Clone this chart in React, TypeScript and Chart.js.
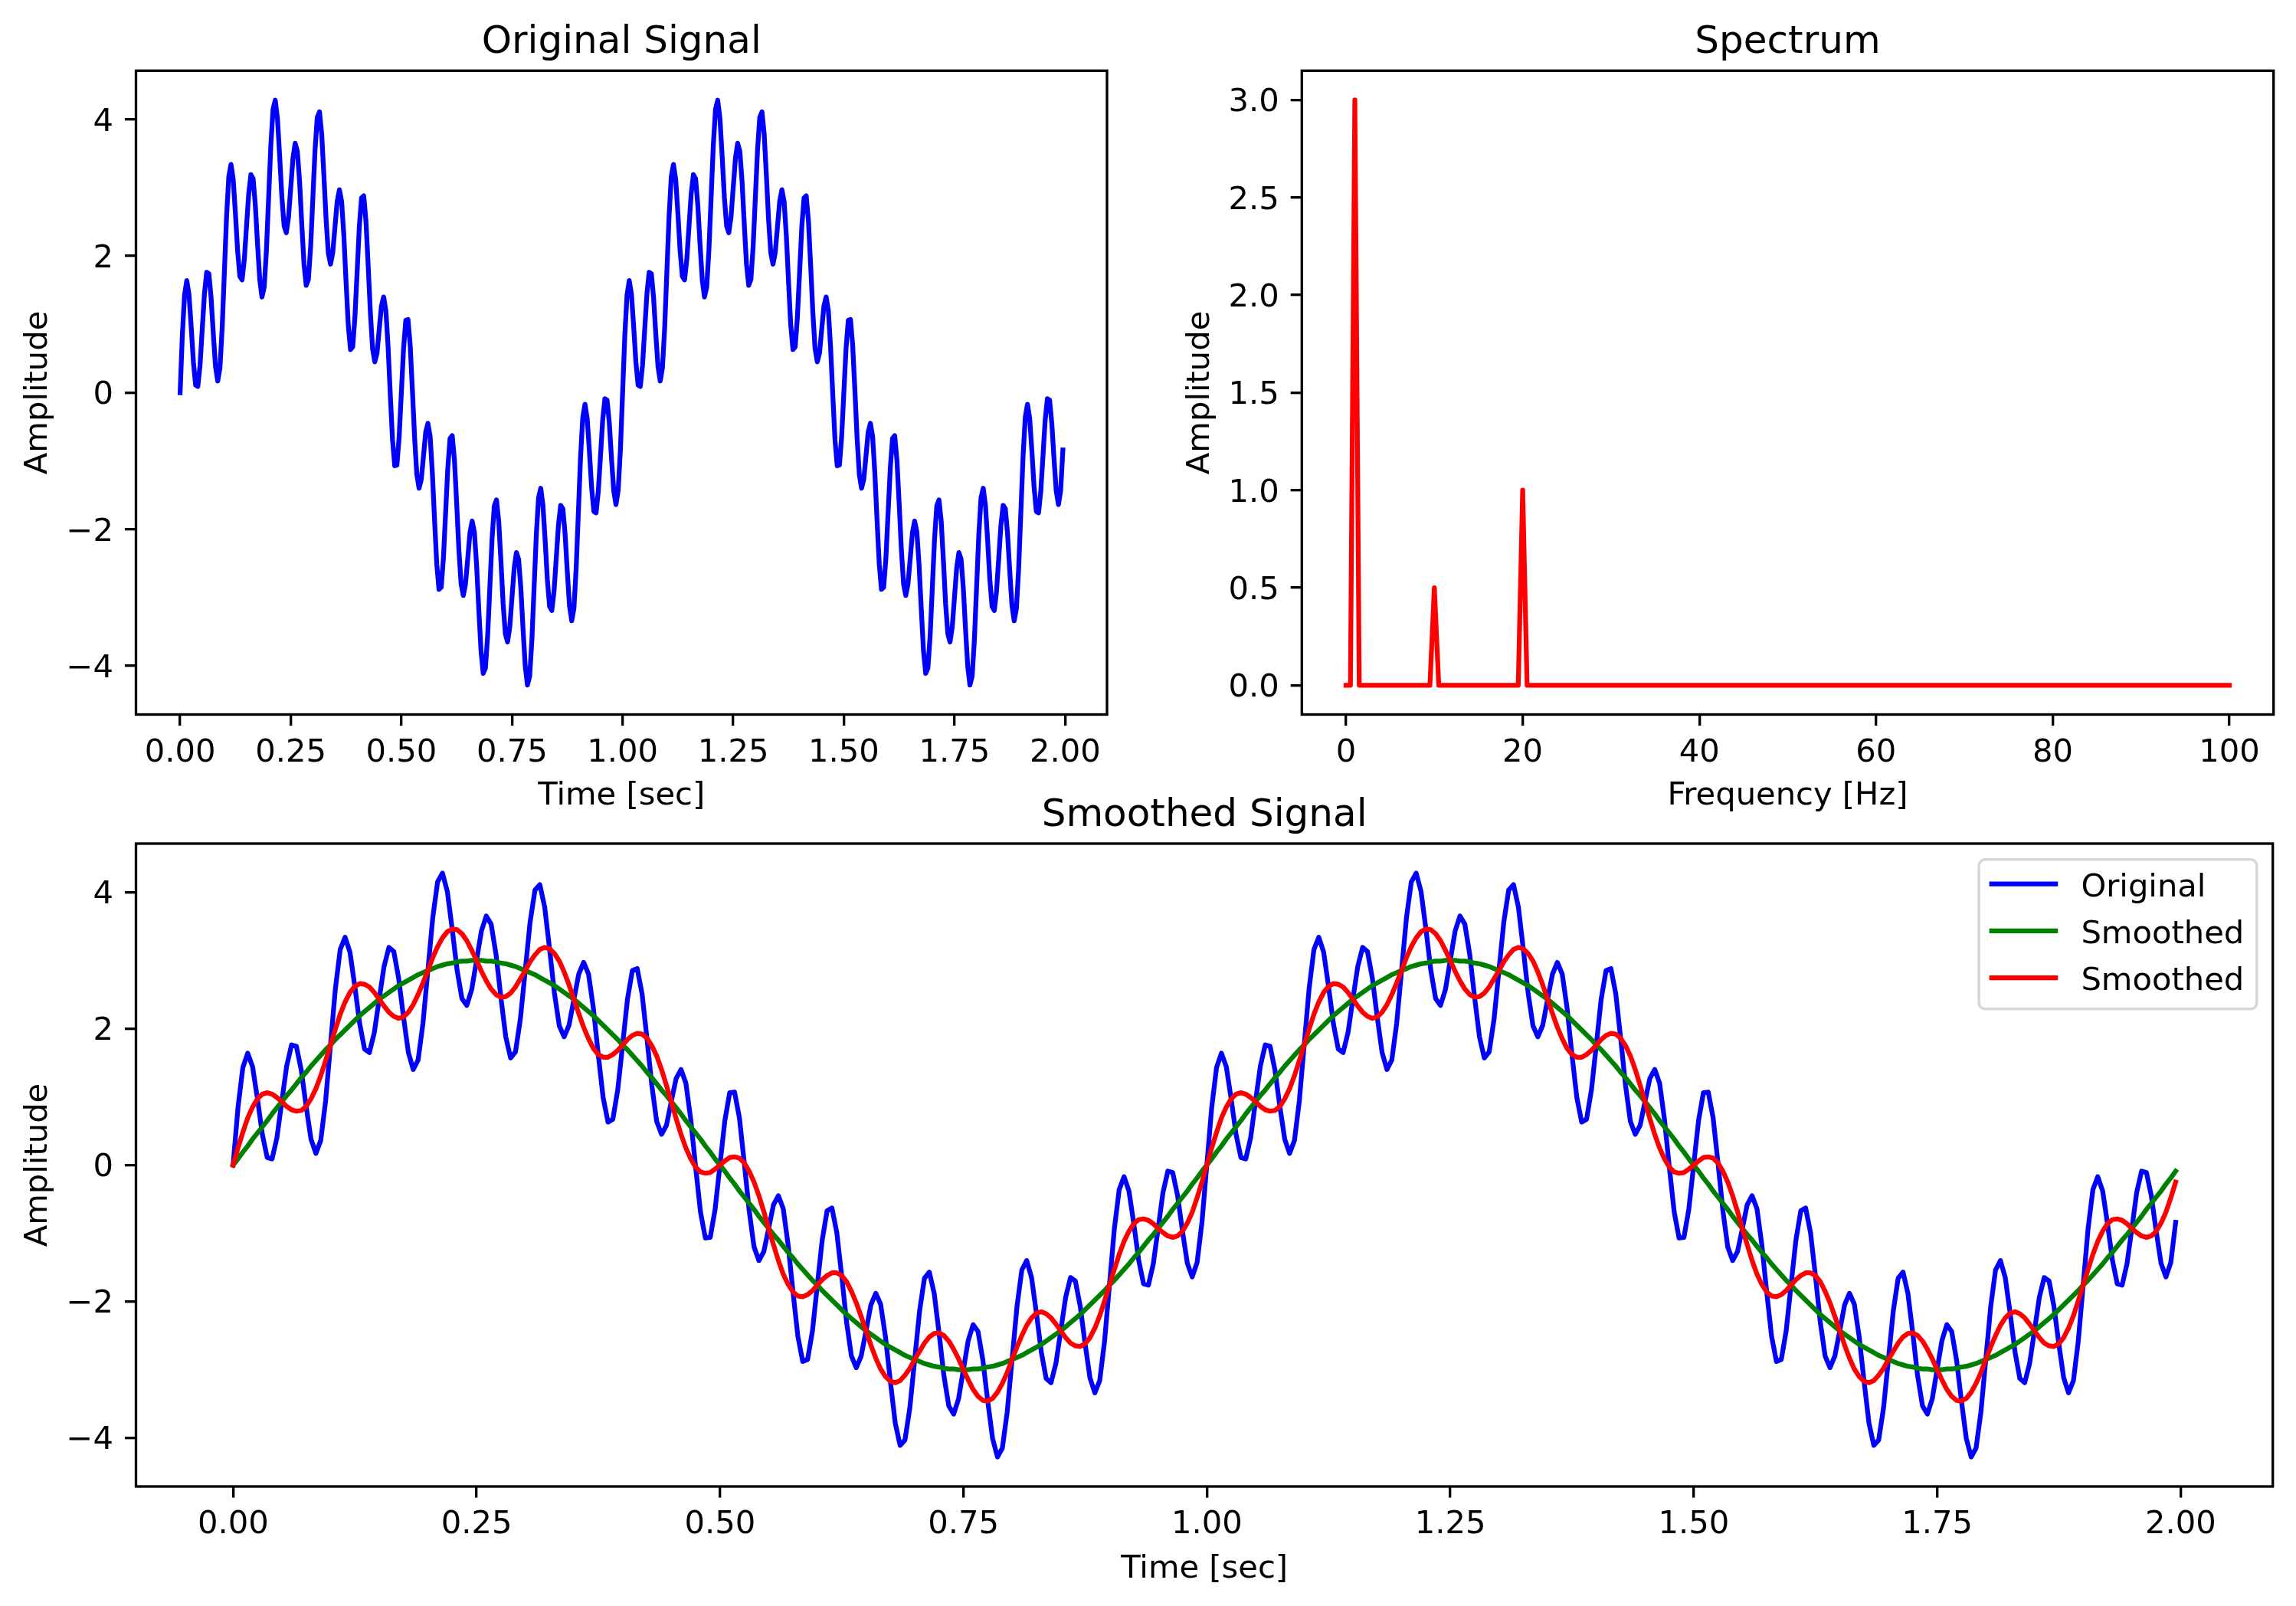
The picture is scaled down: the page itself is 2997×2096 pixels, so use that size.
import { useEffect, useRef } from 'react';
import Chart from 'chart.js/auto';

// sampling of the time series (400 samples over 2 s)
const SAMPLE_RATE = 200;

// blue: original signal
const originalSignal = [
  0, 0.84, 1.43, 1.64, 1.44, 0.97, 0.45, 0.11, 0.09, 0.40,
  0.93, 1.45, 1.76, 1.74, 1.39, 0.86, 0.38, 0.17, 0.36, 0.94,
  1.76, 2.58, 3.16, 3.34, 3.12, 2.62, 2.07, 1.70, 1.65, 1.94,
  2.43, 2.91, 3.19, 3.13, 2.74, 2.17, 1.65, 1.40, 1.54, 2.08,
  2.85, 3.62, 4.15, 4.28, 4.01, 3.46, 2.86, 2.44, 2.34, 2.57,
  3.00, 3.43, 3.65, 3.53, 3.09, 2.46, 1.88, 1.57, 1.66, 2.14,
  2.85, 3.56, 4.03, 4.11, 3.78, 3.17, 2.52, 2.04, 1.88, 2.05,
  2.43, 2.80, 2.97, 2.80, 2.30, 1.62, 0.99, 0.63, 0.67, 1.10,
  1.76, 2.43, 2.85, 2.88, 2.51, 1.86, 1.17, 0.64, 0.45, 0.58,
  0.93, 1.27, 1.40, 1.20, 0.67, -0.03, -0.69, -1.07, -1.06, -0.65,
  0, 0.65, 1.06, 1.07, 0.69, 0.03, -0.67, -1.20, -1.40, -1.27,
  -0.93, -0.58, -0.45, -0.64, -1.17, -1.86, -2.51, -2.88, -2.85, -2.43,
  -1.76, -1.10, -0.67, -0.63, -0.99, -1.62, -2.30, -2.80, -2.97, -2.80,
  -2.43, -2.05, -1.88, -2.04, -2.52, -3.17, -3.78, -4.11, -4.03, -3.56,
  -2.85, -2.14, -1.66, -1.57, -1.88, -2.46, -3.09, -3.53, -3.65, -3.43,
  -3.00, -2.57, -2.34, -2.44, -2.86, -3.46, -4.01, -4.28, -4.15, -3.62,
  -2.85, -2.08, -1.54, -1.40, -1.65, -2.17, -2.74, -3.13, -3.19, -2.91,
  -2.43, -1.94, -1.65, -1.70, -2.07, -2.62, -3.12, -3.34, -3.16, -2.58,
  -1.76, -0.94, -0.36, -0.17, -0.38, -0.86, -1.39, -1.74, -1.76, -1.45,
  -0.93, -0.40, -0.09, -0.11, -0.45, -0.97, -1.44, -1.64, -1.43, -0.84,
  0, 0.84, 1.43, 1.64, 1.44, 0.97, 0.45, 0.11, 0.09, 0.40,
  0.93, 1.45, 1.76, 1.74, 1.39, 0.86, 0.38, 0.17, 0.36, 0.94,
  1.76, 2.58, 3.16, 3.34, 3.12, 2.62, 2.07, 1.70, 1.65, 1.94,
  2.43, 2.91, 3.19, 3.13, 2.74, 2.17, 1.65, 1.40, 1.54, 2.08,
  2.85, 3.62, 4.15, 4.28, 4.01, 3.46, 2.86, 2.44, 2.34, 2.57,
  3.00, 3.43, 3.65, 3.53, 3.09, 2.46, 1.88, 1.57, 1.66, 2.14,
  2.85, 3.56, 4.03, 4.11, 3.78, 3.17, 2.52, 2.04, 1.88, 2.05,
  2.43, 2.80, 2.97, 2.80, 2.30, 1.62, 0.99, 0.63, 0.67, 1.10,
  1.76, 2.43, 2.85, 2.88, 2.51, 1.86, 1.17, 0.64, 0.45, 0.58,
  0.93, 1.27, 1.40, 1.20, 0.67, -0.03, -0.69, -1.07, -1.06, -0.65,
  0, 0.65, 1.06, 1.07, 0.69, 0.03, -0.67, -1.20, -1.40, -1.27,
  -0.93, -0.58, -0.45, -0.64, -1.17, -1.86, -2.51, -2.88, -2.85, -2.43,
  -1.76, -1.10, -0.67, -0.63, -0.99, -1.62, -2.30, -2.80, -2.97, -2.80,
  -2.43, -2.05, -1.88, -2.04, -2.52, -3.17, -3.78, -4.11, -4.03, -3.56,
  -2.85, -2.14, -1.66, -1.57, -1.88, -2.46, -3.09, -3.53, -3.65, -3.43,
  -3.00, -2.57, -2.34, -2.44, -2.86, -3.46, -4.01, -4.28, -4.15, -3.62,
  -2.85, -2.08, -1.54, -1.40, -1.65, -2.17, -2.74, -3.13, -3.19, -2.91,
  -2.43, -1.94, -1.65, -1.70, -2.07, -2.62, -3.12, -3.34, -3.16, -2.58,
  -1.76, -0.94, -0.36, -0.17, -0.38, -0.86, -1.39, -1.74, -1.76, -1.45,
  -0.93, -0.40, -0.09, -0.11, -0.45, -0.97, -1.44, -1.64, -1.43, -0.84,
];

// green: smoothed (slow sine only)
const smoothedGreen = [
  0, 0.09, 0.19, 0.28, 0.38, 0.47, 0.56, 0.65, 0.75, 0.84,
  0.93, 1.02, 1.10, 1.19, 1.28, 1.36, 1.45, 1.53, 1.61, 1.69,
  1.76, 1.84, 1.91, 1.98, 2.05, 2.12, 2.19, 2.25, 2.31, 2.37,
  2.43, 2.48, 2.53, 2.58, 2.63, 2.67, 2.71, 2.75, 2.79, 2.82,
  2.85, 2.88, 2.91, 2.93, 2.95, 2.96, 2.98, 2.99, 2.99, 3.00,
  3.00, 3.00, 2.99, 2.99, 2.98, 2.96, 2.95, 2.93, 2.91, 2.88,
  2.85, 2.82, 2.79, 2.75, 2.71, 2.67, 2.63, 2.58, 2.53, 2.48,
  2.43, 2.37, 2.31, 2.25, 2.19, 2.12, 2.05, 1.98, 1.91, 1.84,
  1.76, 1.69, 1.61, 1.53, 1.45, 1.36, 1.28, 1.19, 1.10, 1.02,
  0.93, 0.84, 0.75, 0.65, 0.56, 0.47, 0.38, 0.28, 0.19, 0.09,
  0, -0.09, -0.19, -0.28, -0.38, -0.47, -0.56, -0.65, -0.75, -0.84,
  -0.93, -1.02, -1.10, -1.19, -1.28, -1.36, -1.45, -1.53, -1.61, -1.69,
  -1.76, -1.84, -1.91, -1.98, -2.05, -2.12, -2.19, -2.25, -2.31, -2.37,
  -2.43, -2.48, -2.53, -2.58, -2.63, -2.67, -2.71, -2.75, -2.79, -2.82,
  -2.85, -2.88, -2.91, -2.93, -2.95, -2.96, -2.98, -2.99, -2.99, -3.00,
  -3.00, -3.00, -2.99, -2.99, -2.98, -2.96, -2.95, -2.93, -2.91, -2.88,
  -2.85, -2.82, -2.79, -2.75, -2.71, -2.67, -2.63, -2.58, -2.53, -2.48,
  -2.43, -2.37, -2.31, -2.25, -2.19, -2.12, -2.05, -1.98, -1.91, -1.84,
  -1.76, -1.69, -1.61, -1.53, -1.45, -1.36, -1.28, -1.19, -1.10, -1.02,
  -0.93, -0.84, -0.75, -0.65, -0.56, -0.47, -0.38, -0.28, -0.19, -0.09,
  0, 0.09, 0.19, 0.28, 0.38, 0.47, 0.56, 0.65, 0.75, 0.84,
  0.93, 1.02, 1.10, 1.19, 1.28, 1.36, 1.45, 1.53, 1.61, 1.69,
  1.76, 1.84, 1.91, 1.98, 2.05, 2.12, 2.19, 2.25, 2.31, 2.37,
  2.43, 2.48, 2.53, 2.58, 2.63, 2.67, 2.71, 2.75, 2.79, 2.82,
  2.85, 2.88, 2.91, 2.93, 2.95, 2.96, 2.98, 2.99, 2.99, 3.00,
  3.00, 3.00, 2.99, 2.99, 2.98, 2.96, 2.95, 2.93, 2.91, 2.88,
  2.85, 2.82, 2.79, 2.75, 2.71, 2.67, 2.63, 2.58, 2.53, 2.48,
  2.43, 2.37, 2.31, 2.25, 2.19, 2.12, 2.05, 1.98, 1.91, 1.84,
  1.76, 1.69, 1.61, 1.53, 1.45, 1.36, 1.28, 1.19, 1.10, 1.02,
  0.93, 0.84, 0.75, 0.65, 0.56, 0.47, 0.38, 0.28, 0.19, 0.09,
  0, -0.09, -0.19, -0.28, -0.38, -0.47, -0.56, -0.65, -0.75, -0.84,
  -0.93, -1.02, -1.10, -1.19, -1.28, -1.36, -1.45, -1.53, -1.61, -1.69,
  -1.76, -1.84, -1.91, -1.98, -2.05, -2.12, -2.19, -2.25, -2.31, -2.37,
  -2.43, -2.48, -2.53, -2.58, -2.63, -2.67, -2.71, -2.75, -2.79, -2.82,
  -2.85, -2.88, -2.91, -2.93, -2.95, -2.96, -2.98, -2.99, -2.99, -3.00,
  -3.00, -3.00, -2.99, -2.99, -2.98, -2.96, -2.95, -2.93, -2.91, -2.88,
  -2.85, -2.82, -2.79, -2.75, -2.71, -2.67, -2.63, -2.58, -2.53, -2.48,
  -2.43, -2.37, -2.31, -2.25, -2.19, -2.12, -2.05, -1.98, -1.91, -1.84,
  -1.76, -1.69, -1.61, -1.53, -1.45, -1.36, -1.28, -1.19, -1.10, -1.02,
  -0.93, -0.84, -0.75, -0.65, -0.56, -0.47, -0.38, -0.28, -0.19, -0.09,
];

// red: smoothed (slow sine + 10 Hz ripple)
const smoothedRed = [
  0, 0.25, 0.48, 0.69, 0.85, 0.97, 1.04, 1.06, 1.04, 0.99,
  0.93, 0.86, 0.81, 0.79, 0.80, 0.86, 0.97, 1.12, 1.31, 1.53,
  1.76, 1.99, 2.21, 2.39, 2.53, 2.62, 2.66, 2.65, 2.61, 2.53,
  2.43, 2.33, 2.24, 2.18, 2.15, 2.17, 2.24, 2.35, 2.50, 2.67,
  2.85, 3.04, 3.20, 3.33, 3.42, 3.46, 3.45, 3.39, 3.29, 3.15,
  3.00, 2.84, 2.70, 2.58, 2.50, 2.46, 2.47, 2.52, 2.61, 2.73,
  2.85, 2.98, 3.08, 3.16, 3.19, 3.17, 3.10, 2.99, 2.83, 2.64,
  2.43, 2.22, 2.02, 1.85, 1.71, 1.62, 1.58, 1.58, 1.62, 1.68,
  1.76, 1.84, 1.90, 1.93, 1.92, 1.86, 1.75, 1.60, 1.40, 1.17,
  0.93, 0.68, 0.45, 0.25, 0.09, -0.03, -0.10, -0.12, -0.11, -0.06,
  0, 0.06, 0.11, 0.12, 0.10, 0.03, -0.09, -0.25, -0.45, -0.68,
  -0.93, -1.17, -1.40, -1.60, -1.75, -1.86, -1.92, -1.93, -1.90, -1.84,
  -1.76, -1.68, -1.62, -1.58, -1.58, -1.62, -1.71, -1.85, -2.02, -2.22,
  -2.43, -2.64, -2.83, -2.99, -3.10, -3.17, -3.19, -3.16, -3.08, -2.98,
  -2.85, -2.73, -2.61, -2.52, -2.47, -2.46, -2.50, -2.58, -2.70, -2.84,
  -3.00, -3.15, -3.29, -3.39, -3.45, -3.46, -3.42, -3.33, -3.20, -3.04,
  -2.85, -2.67, -2.50, -2.35, -2.24, -2.17, -2.15, -2.18, -2.24, -2.33,
  -2.43, -2.53, -2.61, -2.65, -2.66, -2.62, -2.53, -2.39, -2.21, -1.99,
  -1.76, -1.53, -1.31, -1.12, -0.97, -0.86, -0.80, -0.79, -0.81, -0.86,
  -0.93, -0.99, -1.04, -1.06, -1.04, -0.97, -0.85, -0.69, -0.48, -0.25,
  0, 0.25, 0.48, 0.69, 0.85, 0.97, 1.04, 1.06, 1.04, 0.99,
  0.93, 0.86, 0.81, 0.79, 0.80, 0.86, 0.97, 1.12, 1.31, 1.53,
  1.76, 1.99, 2.21, 2.39, 2.53, 2.62, 2.66, 2.65, 2.61, 2.53,
  2.43, 2.33, 2.24, 2.18, 2.15, 2.17, 2.24, 2.35, 2.50, 2.67,
  2.85, 3.04, 3.20, 3.33, 3.42, 3.46, 3.45, 3.39, 3.29, 3.15,
  3.00, 2.84, 2.70, 2.58, 2.50, 2.46, 2.47, 2.52, 2.61, 2.73,
  2.85, 2.98, 3.08, 3.16, 3.19, 3.17, 3.10, 2.99, 2.83, 2.64,
  2.43, 2.22, 2.02, 1.85, 1.71, 1.62, 1.58, 1.58, 1.62, 1.68,
  1.76, 1.84, 1.90, 1.93, 1.92, 1.86, 1.75, 1.60, 1.40, 1.17,
  0.93, 0.68, 0.45, 0.25, 0.09, -0.03, -0.10, -0.12, -0.11, -0.06,
  0, 0.06, 0.11, 0.12, 0.10, 0.03, -0.09, -0.25, -0.45, -0.68,
  -0.93, -1.17, -1.40, -1.60, -1.75, -1.86, -1.92, -1.93, -1.90, -1.84,
  -1.76, -1.68, -1.62, -1.58, -1.58, -1.62, -1.71, -1.85, -2.02, -2.22,
  -2.43, -2.64, -2.83, -2.99, -3.10, -3.17, -3.19, -3.16, -3.08, -2.98,
  -2.85, -2.73, -2.61, -2.52, -2.47, -2.46, -2.50, -2.58, -2.70, -2.84,
  -3.00, -3.15, -3.29, -3.39, -3.45, -3.46, -3.42, -3.33, -3.20, -3.04,
  -2.85, -2.67, -2.50, -2.35, -2.24, -2.17, -2.15, -2.18, -2.24, -2.33,
  -2.43, -2.53, -2.61, -2.65, -2.66, -2.62, -2.53, -2.39, -2.21, -1.99,
  -1.76, -1.53, -1.31, -1.12, -0.97, -0.86, -0.80, -0.79, -0.81, -0.86,
  -0.93, -0.99, -1.04, -1.06, -1.04, -0.97, -0.85, -0.69, -0.48, -0.25,
];

// spectrum: vertices of the drawn line (everything else is zero)
const spectrumFreqs = [0, 0.5, 1, 1.5, 9.5, 10, 10.5, 19.5, 20, 20.5, 100];
const spectrumAmps = [0, 0, 3, 0, 0, 0.5, 0, 0, 1, 0, 0];

// tick values
const timeTicks = [0, 0.25, 0.5, 0.75, 1, 1.25, 1.5, 1.75, 2];
const amplitudeTicks = [-4, -2, 0, 2, 4];
const freqTicks = [0, 20, 40, 60, 80, 100];
const spectrumTicks = [0, 0.5, 1, 1.5, 2, 2.5, 3];

const FONT = '"DejaVu Sans", "Liberation Sans", sans-serif';
const PT = 300 / 72;
const LABEL_SIZE = 10 * PT;
const TITLE_SIZE = 12 * PT;
const LINE_W = 1.5 * PT;
const SPINE_W = 0.8 * PT;
const TICK_LEN = 3.5 * PT;

const fmt = (v: number, digits: number) => Number(v).toFixed(digits).replace('-', '\u2212');

const toPoints = (values: number[]) => values.map((y, i) => ({ x: i / SAMPLE_RATE, y }));

// matplotlib style box round the plot area
const framePlugin = {
  id: 'frame',
  afterDatasetsDraw(chart: any) {
    const { ctx, chartArea: a } = chart;
    ctx.save();
    ctx.strokeStyle = '#000';
    ctx.lineWidth = SPINE_W;
    ctx.strokeRect(a.left, a.top, a.right - a.left, a.bottom - a.top);
    ctx.restore();
  },
};

// legend drawn inside the plot area, upper right
const insideLegend = {
  id: 'insideLegend',
  afterDraw(chart: any) {
    const { ctx, chartArea: a } = chart;
    const sets = chart.data.datasets;
    ctx.save();
    ctx.font = `${LABEL_SIZE}px ${FONT}`;
    const textW = Math.max(...sets.map((d: any) => ctx.measureText(d.label).width));
    const pad = 0.4 * LABEL_SIZE;
    const handle = 2 * LABEL_SIZE;
    const gap = 0.8 * LABEL_SIZE;
    const w = pad * 2 + handle + gap + textW;
    const h = 195;
    const x = a.right - 0.5 * LABEL_SIZE - w;
    const y = a.top + 0.5 * LABEL_SIZE;

    ctx.beginPath();
    ctx.roundRect(x, y, w, h, 8);
    ctx.fillStyle = 'rgba(255,255,255,0.8)';
    ctx.fill();
    ctx.strokeStyle = '#d6d6d6';
    ctx.lineWidth = 3.5;
    ctx.stroke();

    sets.forEach((d: any, i: number) => {
      const cy = y + 31.8 + i * 61.2;
      ctx.beginPath();
      ctx.moveTo(x + pad, cy);
      ctx.lineTo(x + pad + handle, cy);
      ctx.strokeStyle = d.borderColor;
      ctx.lineWidth = LINE_W;
      ctx.lineCap = 'square';
      ctx.stroke();
      ctx.fillStyle = '#000';
      ctx.textAlign = 'left';
      ctx.textBaseline = 'middle';
      ctx.fillText(d.label, x + pad + handle + gap, cy + 5.5);
    });
    ctx.restore();
  },
};

interface AxisSpec {
  min: number;
  max: number;
  ticks: number[];
  digits: number;
  title: string;
}

interface PanelSpec {
  title: string;
  x: AxisSpec;
  y: AxisSpec;
  yAxisWidth: number;
  xAxisHeight: number;
  rightPad: number;
  titlePad: { top: number; bottom: number };
  xTitlePad: number;
  yTitlePad: number;
}

const lineStyle = {
  borderWidth: LINE_W,
  pointRadius: 0,
  fill: false,
  tension: 0,
  borderJoinStyle: 'round',
  borderCapStyle: 'square',
};

function buildOptions(p: PanelSpec): any {
  const tickFont = { family: FONT, size: LABEL_SIZE };
  const grid = {
    display: true,
    drawOnChartArea: false,
    drawTicks: true,
    tickLength: TICK_LEN,
    color: '#000',
    lineWidth: SPINE_W,
  };
  return {
    animation: false,
    responsive: false,
    maintainAspectRatio: false,
    events: [],
    layout: { padding: { left: 0, top: 0, bottom: 0, right: p.rightPad } },
    plugins: {
      legend: { display: false },
      tooltip: { enabled: false },
      title: {
        display: true,
        fullSize: false,
        text: p.title,
        color: '#000',
        font: { family: FONT, size: TITLE_SIZE, weight: 'normal' },
        padding: p.titlePad,
      },
    },
    scales: {
      x: {
        type: 'linear',
        min: p.x.min,
        max: p.x.max,
        afterBuildTicks: (s: any) => {
          s.ticks = p.x.ticks.map((v) => ({ value: v }));
        },
        afterFit: (s: any) => {
          s.height = p.xAxisHeight;
          s.paddingLeft = 0;
          s.paddingRight = 0;
        },
        ticks: {
          color: '#000',
          font: tickFont,
          padding: 11,
          maxRotation: 0,
          autoSkip: false,
          callback: (v: number) => fmt(v, p.x.digits),
        },
        grid,
        border: { display: false },
        title: {
          display: true,
          text: p.x.title,
          color: '#000',
          font: tickFont,
          padding: { top: 0, bottom: p.xTitlePad },
        },
      },
      y: {
        type: 'linear',
        min: p.y.min,
        max: p.y.max,
        afterBuildTicks: (s: any) => {
          s.ticks = p.y.ticks.map((v) => ({ value: v }));
        },
        afterFit: (s: any) => {
          s.width = p.yAxisWidth;
          s.paddingTop = 0;
          s.paddingBottom = 0;
        },
        ticks: {
          color: '#000',
          font: tickFont,
          padding: 15,
          labelOffset: 4,
          autoSkip: false,
          callback: (v: number) => fmt(v, p.y.digits),
        },
        grid,
        border: { display: false },
        title: {
          display: true,
          text: p.y.title,
          color: '#000',
          font: tickFont,
          padding: { top: p.yTitlePad, bottom: 0 },
        },
      },
    },
  };
}

const timeAxis: AxisSpec = { min: -0.09975, max: 2.09475, ticks: timeTicks, digits: 2, title: 'Time [sec]' };
const signalAxis: AxisSpec = { min: -4.7117, max: 4.7117, ticks: amplitudeTicks, digits: 0, title: 'Amplitude' };

function ChartPanel({ left, top, width, height, makeConfig }: any) {
  const canvasRef = useRef<HTMLCanvasElement | null>(null);

  useEffect(() => {
    if (!canvasRef.current) return;
    const chart = new Chart(canvasRef.current, makeConfig());
    return () => {
      chart.destroy();
    };
  }, []);

  return (
    <canvas
      ref={canvasRef}
      width={width}
      height={height}
      style={{ position: 'absolute', left, top, width, height }}
    />
  );
}

const originalConfig = () => ({
  type: 'line',
  data: {
    datasets: [{ label: 'Original', data: toPoints(originalSignal), borderColor: '#0000ff', ...lineStyle }],
  },
  options: buildOptions({
    title: 'Original Signal',
    x: timeAxis,
    y: signalAxis,
    yAxisWidth: 177.5,
    xAxisHeight: 157.5,
    rightPad: 55,
    titlePad: { top: 26, bottom: 6.3 },
    xTitlePad: 25.5,
    yTitlePad: 25,
  }),
  plugins: [framePlugin],
});

const spectrumConfig = () => ({
  type: 'line',
  data: {
    datasets: [
      {
        label: 'Spectrum',
        data: spectrumFreqs.map((f, i) => ({ x: f, y: spectrumAmps[i] })),
        borderColor: '#ff0000',
        ...lineStyle,
      },
    ],
  },
  options: buildOptions({
    title: 'Spectrum',
    x: { min: -5, max: 105, ticks: freqTicks, digits: 0, title: 'Frequency [Hz]' },
    y: { min: -0.15, max: 3.15, ticks: spectrumTicks, digits: 1, title: 'Amplitude' },
    yAxisWidth: 199.3,
    xAxisHeight: 157.5,
    rightPad: 29.3,
    titlePad: { top: 26, bottom: 6.3 },
    xTitlePad: 25.5,
    yTitlePad: 42,
  }),
  plugins: [framePlugin],
});

const smoothedConfig = () => ({
  type: 'line',
  data: {
    datasets: [
      { label: 'Original', data: toPoints(originalSignal), borderColor: '#0000ff', order: 3, ...lineStyle },
      { label: 'Smoothed', data: toPoints(smoothedGreen), borderColor: '#008000', order: 2, ...lineStyle },
      { label: 'Smoothed', data: toPoints(smoothedRed), borderColor: '#ff0000', order: 1, ...lineStyle },
    ],
  },
  options: buildOptions({
    title: 'Smoothed Signal',
    x: timeAxis,
    y: signalAxis,
    yAxisWidth: 177.5,
    xAxisHeight: 156,
    rightPad: 30.3,
    titlePad: { top: 34.7, bottom: 6.3 },
    xTitlePad: 22.4,
    yTitlePad: 25,
  }),
  plugins: [framePlugin, insideLegend],
});

export default function App() {
  return (
    <div
      style={{
        position: 'absolute',
        left: 0,
        top: 0,
        width: 2997,
        height: 2096,
        background: '#fff',
        overflow: 'hidden',
      }}
    >
      <ChartPanel left={0} top={0} width={1500} height={1090} makeConfig={originalConfig} />
      <ChartPanel left={1500} top={0} width={1497} height={1090} makeConfig={spectrumConfig} />
      <ChartPanel left={0} top={1000} width={2997} height={1096} makeConfig={smoothedConfig} />
    </div>
  );
}
